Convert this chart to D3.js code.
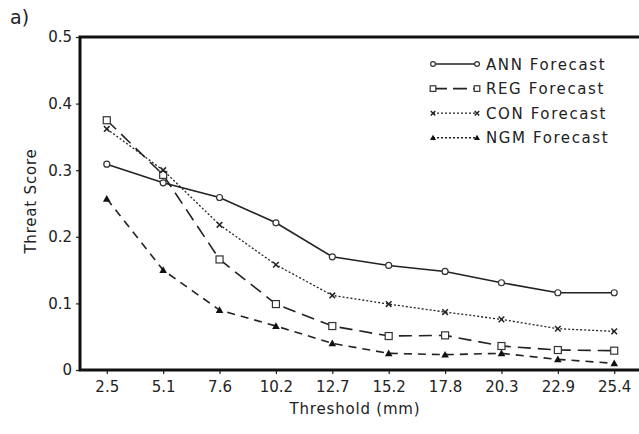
<!DOCTYPE html>
<html>
<head>
<meta charset="utf-8">
<script src="https://cdn.jsdelivr.net/npm/d3@7"></script>
<style>
  body { margin: 0; background: #fff; }
  svg text { font-family: "DejaVu Sans", sans-serif; fill: #222; }
</style>
</head>
<body>
<svg width="639" height="434"></svg>
<script>
const thresholds = ["2.5", "5.1", "7.6", "10.2", "12.7", "15.2", "17.8", "20.3", "22.9", "25.4"];
const annScores = [0.309, 0.281, 0.259, 0.221, 0.170, 0.157, 0.148, 0.131, 0.116, 0.116];
const regScores = [0.375, 0.293, 0.166, 0.099, 0.066, 0.051, 0.052, 0.036, 0.030, 0.029];
const conScores = [0.362, 0.300, 0.218, 0.158, 0.112, 0.099, 0.087, 0.076, 0.062, 0.058];
const ngmScores = [0.257, 0.150, 0.090, 0.066, 0.040, 0.025, 0.023, 0.025, 0.016, 0.010];
const yTicks = [0, 0.1, 0.2, 0.3, 0.4, 0.5];

const svg = d3.select("svg");
const plotLeft = 80, plotRight = 641, plotTop = 37, plotBottom = 370;

const x = d3.scalePoint().domain(thresholds).range([plotLeft, plotRight]).padding(0.475);
const y = d3.scaleLinear().domain([0, 0.5]).range([plotBottom, plotTop]);

const series = [
  { name: "ANN Forecast", values: annScores, dash: null, width: 1.6, marker: "circle" },
  { name: "REG Forecast", values: regScores, dash: "13,7", width: 1.6, marker: "square" },
  { name: "CON Forecast", values: conScores, dash: "2,2", width: 1.3, marker: "cross" },
  { name: "NGM Forecast", values: ngmScores, dash: "8,6", width: 1.6, marker: "triangle" }
];

// axes
const yAxis = svg.append("g")
  .attr("transform", `translate(${plotLeft},0)`)
  .call(d3.axisLeft(y).tickValues(yTicks).tickFormat(d => d === 0 ? "0" : d3.format(".1f")(d)).tickSize(4).tickPadding(4));
const xAxis = svg.append("g")
  .attr("transform", `translate(0,${plotBottom})`)
  .call(d3.axisBottom(x).tickSize(4).tickPadding(7));
[xAxis, yAxis].forEach(a => {
  a.select(".domain").remove();
  a.selectAll("line").attr("stroke", "#222").attr("stroke-width", 1.2);
  a.selectAll("text").style("font-size", "15px").attr("fill", "#222");
});

// frame
svg.append("rect")
  .attr("x", plotLeft).attr("y", plotTop)
  .attr("width", plotRight - plotLeft).attr("height", plotBottom - plotTop)
  .attr("fill", "none").attr("stroke", "#111").attr("stroke-width", 3);

function drawMarker(g, type, cx, cy, k = 1) {
  if (type === "circle") {
    g.append("circle").attr("cx", cx).attr("cy", cy).attr("r", 3 * k)
      .attr("fill", "#fff").attr("stroke", "#333").attr("stroke-width", 1.2);
  } else if (type === "square") {
    g.append("rect").attr("x", cx - 3.5 * k).attr("y", cy - 3.5 * k).attr("width", 7 * k).attr("height", 7 * k)
      .attr("fill", "#fff").attr("stroke", "#333").attr("stroke-width", 1.2);
  } else if (type === "cross") {
    const r = 2.8 * k;
    g.append("path").attr("d", `M${cx - r},${cy - r}L${cx + r},${cy + r}M${cx - r},${cy + r}L${cx + r},${cy - r}`)
      .attr("stroke", "#222").attr("stroke-width", 1.5);
  } else {
    const r = 3.8 * k;
    g.append("path").attr("d", `M${cx},${cy - r}L${cx + r},${cy + r * 0.75}L${cx - r},${cy + r * 0.75}Z`)
      .attr("fill", "#111");
  }
}

const line = d3.line().x((d, i) => x(thresholds[i])).y(d => y(d));

series.forEach(s => {
  const g = svg.append("g");
  g.append("path")
    .attr("d", line(s.values))
    .attr("fill", "none")
    .attr("stroke", "#222")
    .attr("stroke-width", s.width)
    .attr("stroke-dasharray", s.dash);
  s.values.forEach((v, i) => drawMarker(g, s.marker, x(thresholds[i]), y(v)));
});

// legend
const legend = svg.append("g").attr("transform", "translate(433,64)");
series.forEach((s, i) => {
  const row = legend.append("g").attr("transform", `translate(0,${i * 24.6})`);
  row.append("line").attr("x1", 0).attr("x2", 44).attr("y1", 0).attr("y2", 0)
    .attr("stroke", "#222").attr("stroke-width", s.width)
    .attr("stroke-dasharray", s.dash === "13,7" ? "14,6" : (s.dash === "8,6" ? "2,2" : s.dash));
  drawMarker(row, s.marker, 0, 0, 0.8);
  drawMarker(row, s.marker, 44, 0, 0.8);
  row.append("text").attr("x", 53).attr("y", 5.5)
    .style("font-size", "15px").style("letter-spacing", "1.6px")
    .text(s.name);
});

// labels
svg.append("text")
  .attr("x", (plotLeft + 630) / 2).attr("y", 414)
  .attr("text-anchor", "middle")
  .style("font-size", "15px").style("letter-spacing", "0.8px")
  .text("Threshold (mm)");

svg.append("text")
  .attr("transform", "translate(36,201) rotate(-90)")
  .attr("text-anchor", "middle")
  .style("font-size", "15px").style("letter-spacing", "0.8px")
  .text("Threat Score");

svg.append("text")
  .attr("x", 10).attr("y", 24)
  .style("font-size", "19px")
  .text("a)");
</script>
</body>
</html>
